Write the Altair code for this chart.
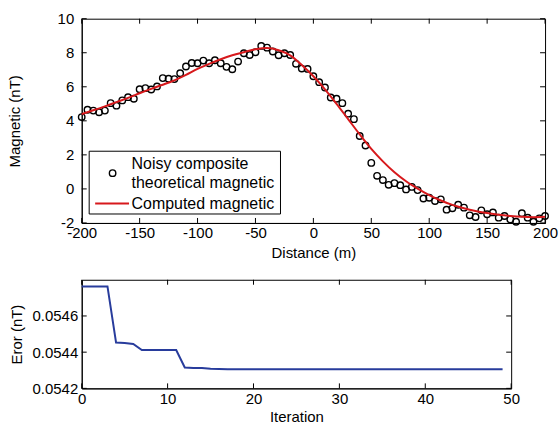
import altair as alt
import pandas as pd

FONT = "Liberation Sans"

# ---- top panel data ----
distance = [-200, -195, -190, -185, -180, -175, -170, -165, -160, -155,
            -150, -145, -140, -135, -130, -125, -120, -115, -110, -105,
            -100, -95, -90, -85, -80, -75, -70, -65, -60, -55,
            -50, -45, -40, -35, -30, -25, -20, -15, -10, -5,
            0, 5, 10, 15, 20, 25, 30, 35, 40, 45,
            50, 55, 60, 65, 70, 75, 80, 85, 90, 95,
            100, 105, 110, 115, 120, 125, 130, 135, 140, 145,
            150, 155, 160, 165, 170, 175, 180, 185, 190, 195, 200]
noisy = [4.22, 4.65, 4.60, 4.50, 4.60, 5.04, 4.89, 5.20, 5.39, 5.30,
         5.86, 5.92, 5.84, 6.02, 6.51, 6.47, 6.45, 6.80, 7.19, 7.40,
         7.38, 7.54, 7.38, 7.56, 7.38, 7.17, 7.03, 7.48, 7.97, 7.87,
         8.03, 8.40, 8.30, 8.07, 7.85, 7.97, 7.87, 7.35, 7.07, 7.05,
         6.62, 6.27, 5.96, 5.37, 5.30, 5.04, 4.42, 4.10, 3.11, 2.55,
         1.53, 0.77, 0.52, 0.24, 0.34, 0.22, -0.03, 0.12, -0.07, -0.56,
         -0.52, -0.71, -0.61, -1.22, -1.14, -0.93, -1.10, -1.55, -1.65, -1.26,
         -1.49, -1.38, -1.69, -1.59, -1.79, -1.93, -1.43, -1.69, -1.93, -1.73, -1.59]

curve_x = [-200, -190, -180, -170, -160, -150, -140, -130, -120, -110,
           -100, -90, -80, -70, -60, -50, -40, -30, -20, -10,
           0, 10, 20, 30, 40, 50, 60, 70, 80, 90,
           100, 110, 120, 130, 140, 150, 160, 170, 180, 190, 200]
curve_y = [4.40, 4.62, 4.85, 5.10, 5.35, 5.62, 5.88, 6.12, 6.38, 6.70,
           7.05, 7.35, 7.62, 7.85, 8.03, 8.20, 8.28, 8.15, 7.85, 7.28,
           6.62, 5.85, 5.00, 4.10, 3.20, 2.35, 1.62, 0.98, 0.45, 0.02,
           -0.36, -0.68, -0.94, -1.14, -1.30, -1.42, -1.52, -1.59, -1.64, -1.66, -1.64]

x_ticks_top = [-200, -150, -100, -50, 0, 50, 100, 150, 200]
y_ticks_top = [-2, 0, 2, 4, 6, 8, 10]

legend_labels = ["Noisy composite", "theoretical magnetic", "Computed magnetic"]

# ---- bottom panel data ----
iteration = [0, 1, 2, 3, 4, 5, 6, 7, 8, 9,
             10, 11, 12, 13, 14, 15, 16, 17, 18, 19,
             20, 21, 22, 23, 24, 25, 26, 27, 28, 29,
             30, 31, 32, 33, 34, 35, 36, 37, 38, 39,
             40, 41, 42, 43, 44, 45, 46, 47, 48, 49]
error = [0.054763, 0.054763, 0.054763, 0.054763, 0.054453, 0.054450, 0.054445, 0.054412, 0.054412, 0.054412,
         0.054412, 0.054412, 0.054315, 0.054313, 0.054312, 0.054308, 0.054307, 0.054305, 0.054305, 0.054305,
         0.054305, 0.054305, 0.054305, 0.054305, 0.054305, 0.054305, 0.054305, 0.054305, 0.054305, 0.054305,
         0.054305, 0.054305, 0.054305, 0.054305, 0.054305, 0.054305, 0.054305, 0.054305, 0.054305, 0.054305,
         0.054305, 0.054305, 0.054305, 0.054305, 0.054305, 0.054305, 0.054305, 0.054305, 0.054305, 0.054305]
x_ticks_bot = [0, 10, 20, 30, 40, 50]
y_ticks_bot = [0.0542, 0.0544, 0.0546]

W1, H1 = 465, 205
W2, H2 = 431, 109
TICK = 5
LAB = 15
TIT = 15
LEG = 16

# ================= top panel =================
xs1 = alt.Scale(domain=[-200, 200], nice=False, zero=False)
ys1 = alt.Scale(domain=[-2, 10], nice=False, zero=False)

pts = pd.DataFrame({"d": distance, "m": noisy})
crv = pd.DataFrame({"d": curve_x, "m": curve_y})
xt1 = pd.DataFrame({"d": x_ticks_top})
yt1 = pd.DataFrame({"m": y_ticks_top})

xaxis1 = alt.Axis(values=x_ticks_top, labelExpr="'' + datum.value", ticks=False,
                  labelPadding=3, title="Distance (m)", titlePadding=5, grid=False,
                  labelOverlap=False, labelFlush=False, labelBound=False)
yaxis1 = alt.Axis(values=y_ticks_top, labelExpr="'' + datum.value", ticks=False,
                  labelPadding=8, title="Magnetic (nT)", titlePadding=35, grid=False,
                  labelOverlap=False, labelFlush=False, labelBound=False)


def X1():
    return alt.X("d:Q", scale=xs1, axis=xaxis1)


def Y1():
    return alt.Y("m:Q", scale=ys1, axis=yaxis1)


points = alt.Chart(pts).mark_point(shape="circle", filled=False, color="black",
                                   size=42, strokeWidth=1.4, opacity=1).encode(x=X1(), y=Y1())
line = alt.Chart(crv).mark_line(color="#d7191c", strokeWidth=2, interpolate="monotone").encode(
    x=X1(), y=Y1())
tx_b = alt.Chart(xt1).mark_rule(color="black", strokeWidth=1).encode(
    x=X1(), y=alt.value(H1), y2=alt.value(H1 - TICK))
tx_t = alt.Chart(xt1).mark_rule(color="black", strokeWidth=1).encode(
    x=X1(), y=alt.value(0), y2=alt.value(TICK))
ty_l = alt.Chart(yt1).mark_rule(color="black", strokeWidth=1).encode(
    y=Y1(), x=alt.value(0), x2=alt.value(TICK))
ty_r = alt.Chart(yt1).mark_rule(color="black", strokeWidth=1).encode(
    y=Y1(), x=alt.value(W1), x2=alt.value(W1 - TICK))

# legend (manual, MATLAB-like box)
leg_df = pd.DataFrame({"t": ["box"]})
leg_box = alt.Chart(leg_df).mark_rect(fill="white", stroke="black", strokeWidth=1).encode(
    x=alt.value(7.5), x2=alt.value(199.5), y=alt.value(133), y2=alt.value(196))
leg_pt = alt.Chart(leg_df).mark_point(shape="circle", filled=False, color="black",
                                      size=42, strokeWidth=1.4, opacity=1).encode(
    x=alt.value(31), y=alt.value(155))
leg_ln = alt.Chart(leg_df).mark_rule(color="#d7191c", strokeWidth=2).encode(
    x=alt.value(13.5), x2=alt.value(47.5), y=alt.value(185.5))
leg_txt = []
for lab, yy in zip(legend_labels, [145.5, 165, 185.5]):
    leg_txt.append(
        alt.Chart(pd.DataFrame({"t": [lab]})).mark_text(
            align="left", baseline="middle", font=FONT, fontSize=LEG, color="black").encode(
            x=alt.value(50), y=alt.value(yy), text="t:N"))

top = alt.layer(points, line, tx_b, tx_t, ty_l, ty_r, leg_box, leg_pt, leg_ln, *leg_txt).properties(
    width=W1, height=H1)

# ================= bottom panel =================
xs2 = alt.Scale(domain=[0, 50], nice=False, zero=False)
ys2 = alt.Scale(domain=[0.0542, 0.0548], nice=False, zero=False)

err_df = pd.DataFrame({"i": iteration, "e": error})
xt2 = pd.DataFrame({"i": x_ticks_bot})
yt2 = pd.DataFrame({"e": y_ticks_bot})

xaxis2 = alt.Axis(values=x_ticks_bot, labelExpr="'' + datum.value", ticks=False,
                  labelPadding=3, title="Iteration", titlePadding=3, grid=False,
                  labelOverlap=False, labelFlush=False, labelBound=False)
yaxis2 = alt.Axis(values=y_ticks_bot, labelExpr="format(datum.value, '.4f')", ticks=False,
                  labelPadding=4, title="Eror (nT)", titlePadding=8, grid=False,
                  labelOverlap=False, labelFlush=False, labelBound=False)


def X2():
    return alt.X("i:Q", scale=xs2, axis=xaxis2)


def Y2():
    return alt.Y("e:Q", scale=ys2, axis=yaxis2)


err_line = alt.Chart(err_df).mark_line(color="#283c9c", strokeWidth=2).encode(x=X2(), y=Y2())
bx_b = alt.Chart(xt2).mark_rule(color="black", strokeWidth=1).encode(
    x=X2(), y=alt.value(H2), y2=alt.value(H2 - TICK))
bx_t = alt.Chart(xt2).mark_rule(color="black", strokeWidth=1).encode(
    x=X2(), y=alt.value(0), y2=alt.value(TICK))
by_l = alt.Chart(yt2).mark_rule(color="black", strokeWidth=1).encode(
    y=Y2(), x=alt.value(0), x2=alt.value(TICK))
by_r = alt.Chart(yt2).mark_rule(color="black", strokeWidth=1).encode(
    y=Y2(), x=alt.value(W2), x2=alt.value(W2 - TICK))

bottom = alt.layer(err_line, bx_b, bx_t, by_l, by_r).properties(width=W2, height=H2)

chart = alt.vconcat(top, bottom, spacing=17).properties(
    padding={"left": 6, "top": 10, "right": 0, "bottom": 0},
    background="white",
).configure_view(stroke="black", strokeWidth=1).configure_axis(
    domainColor="black", domainWidth=1, labelFont=FONT, titleFont=FONT,
    labelFontSize=LAB, titleFontSize=TIT, labelColor="black", titleColor="black",
    titleFontWeight="normal", labelOverlap=False, labelFlush=False, labelBound=False,
)

chart.save("out.html", embed_options={"renderer": "svg", "actions": False})
